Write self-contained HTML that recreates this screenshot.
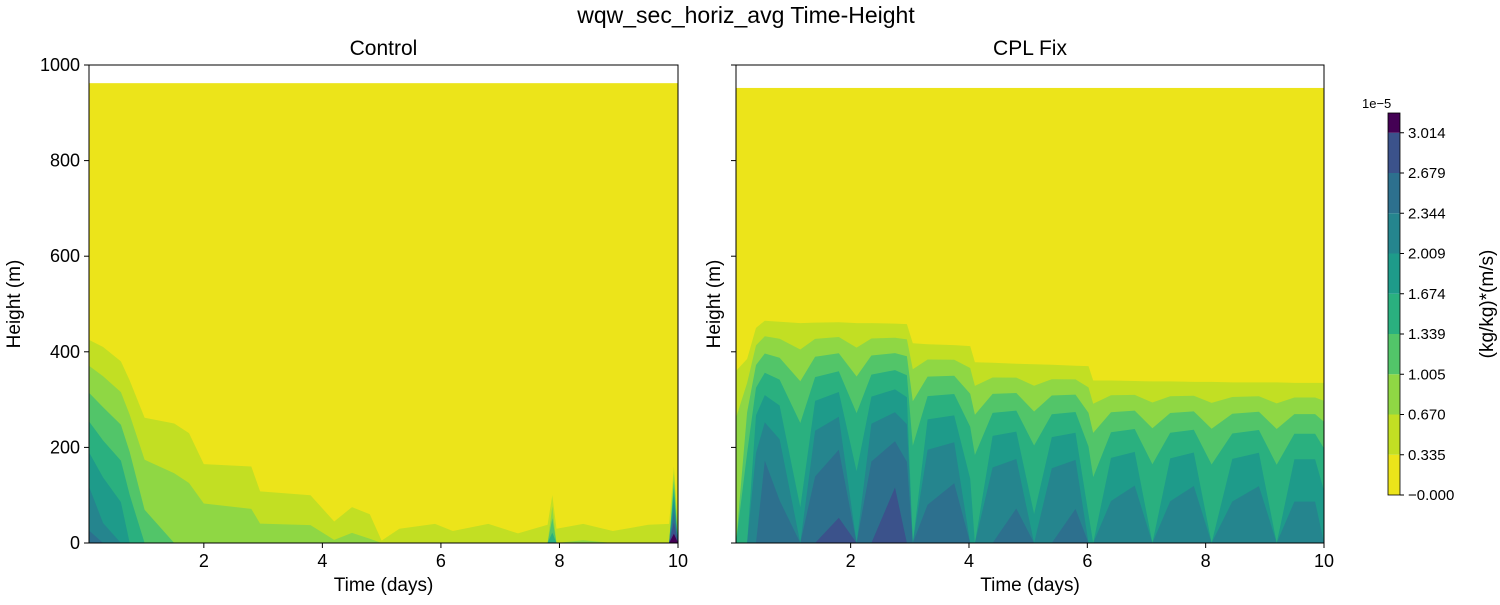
<!DOCTYPE html>
<html><head><meta charset="utf-8"><style>
body{margin:0;background:#fff}
svg text{font-family:"Liberation Sans","DejaVu Sans",sans-serif;fill:#000}
</style></head><body>
<svg id="chart" width="1500" height="600" viewBox="0 0 1500 600" xmlns="http://www.w3.org/2000/svg">
<text x="746" y="23" font-size="23" text-anchor="middle">wqw_sec_horiz_avg Time-Height</text>
<g id="pl"></g><g id="pr"></g><g id="cb"></g>
</svg>
<script>
// Control panel data: time (days), top of signal (m), surface value (1e-5)
const ctrlTimes=[0.06,0.3,0.6,0.75,1.0,1.5,1.75,2.0,2.8,2.95,3.8,4.2,4.5,4.8,5.0,5.3,5.9,6.2,6.8,7.3,7.8,7.88,7.95,8.4,8.9,9.5,9.85,9.93,10];
const ctrlTop=[425,410,380,340,262,250,230,165,160,108,100,45,75,60,5,30,40,25,40,20,38,100,30,40,25,38,40,160,40];
const ctrlBase=[2.4,2.1,1.9,1.6,1.15,1.0,0.95,0.9,0.85,0.8,0.8,0.7,0.75,0.7,0.45,0.65,0.65,0.6,0.65,0.6,0.65,1.5,0.65,0.7,0.65,0.65,0.65,3.2,1.0];
const ctrlDataTop=962;
// CPL Fix panel data
const fixTimes=[0.06,0.25,0.4,0.55,0.8,1.15,1.4,1.8,2.1,2.35,2.75,2.95,3.05,3.3,3.75,4.02,4.1,4.4,4.8,5.1,5.4,5.8,6.02,6.1,6.4,6.8,7.1,7.4,7.8,8.1,8.45,8.9,9.2,9.5,9.85,10];
const fixTop=[360,385,450,465,463,460,461,462,460,460,459,458,418,416,414,412,378,377,375,374,373,371,370,340,340,339,338,338,337,337,336,336,336,335,335,335];
const fixBase=[1.0,1.6,2.3,2.6,2.4,1.7,2.5,2.7,1.8,2.6,2.8,2.6,1.6,2.4,2.5,1.8,1.6,2.3,2.4,1.7,2.3,2.4,1.7,1.5,2.1,2.2,1.6,2.1,2.2,1.6,2.1,2.2,1.6,2.1,2.1,1.8];
const fixDataTop=952;
const yTicks=[0,200,400,600,800,1000];
const xTicks=[2,4,6,8,10];
const cbTicks=["-0.000","0.335","0.670","1.005","1.339","1.674","2.009","2.344","2.679","3.014"];
const step=0.335;
const colors=["#ece41a","#c2df23","#8fd744","#52c569","#2ab07f","#1e9b8a","#25858e","#2d708e","#3b528b","#440154"];
const NS="http://www.w3.org/2000/svg";
function mk(parent,tag,attrs){const e=document.createElementNS(NS,tag);for(const k in attrs)e.setAttribute(k,attrs[k]);parent.appendChild(e);return e;}
const Y0=543,Y1=65;
function yS(h){return Y0-h*(Y0-Y1)/1000;}
function panel(gid,x0,x1,times,tops,bases,dataTop,p,title,labels){
  const g=document.getElementById(gid);
  
  
  const xS=d=>x0+(d-0.0625)*(x1-x0)/9.9375;
  const bg=mk(g,'rect',{x:x0,y:yS(dataTop),width:x1-x0,height:Y0-yS(dataTop),fill:colors[0]});
  
  
  for(let k=1;k<colors.length;k++){
    const thr=k*step;let pts=[];let any=false;
    for(let i=0;i<times.length;i++){
      let h=0;const b=bases[i];
      if(b>thr||(k===1&&b>step)){h=k===1?tops[i]:tops[i]*Math.pow(Math.max(0,1-(thr-step)/(b-step)),1/p);}
      if(h>0)any=true;
      pts.push(xS(Math.max(0.0625,times[i])).toFixed(1)+','+yS(h).toFixed(1));
    }
    if(!any)continue;
    pts.push(xS(10)+','+Y0);pts.push(xS(0.0625)+','+Y0);
    const pg=mk(g,'polygon',{points:pts.join(' '),fill:colors[k]});
    
    
  }
  const fr=mk(g,'rect',{x:x0,y:Y1,width:x1-x0,height:Y0-Y1,fill:'none',stroke:'#000','stroke-width':1});
  
  
  const t=mk(g,'text',{x:(x0+x1)/2,y:55,'font-size':21,'text-anchor':'middle'});t.textContent=title;
  
  
  yTicks.forEach(v=>{
    mk(g,'line',{x1:x0-5,x2:x0,y1:yS(v),y2:yS(v),stroke:'#000'});
    if(labels){const l=mk(g,'text',{x:x0-9,y:yS(v)+6,'font-size':18,'text-anchor':'end'});l.textContent=v;
      
      }
  });
  xTicks.forEach(v=>{
    mk(g,'line',{x1:xS(v),x2:xS(v),y1:Y0,y2:Y0+5,stroke:'#000'});
    const l=mk(g,'text',{x:xS(v),y:Y0+24,'font-size':18,'text-anchor':'middle'});l.textContent=v;
    
    
  });
  const xl=mk(g,'text',{x:(x0+x1)/2,y:591,'font-size':19,'text-anchor':'middle'});xl.textContent='Time (days)';
  
  
  const yl=mk(g,'text',{x:0,y:0,'font-size':19,'text-anchor':'middle',transform:`translate(${x0-(labels?69:16)},${(Y0+Y1)/2}) rotate(-90)`});yl.textContent='Height (m)';
  
  
}
panel('pl',89,678,ctrlTimes,ctrlTop,ctrlBase,ctrlDataTop,1.3,'Control',true);
panel('pr',736,1324,fixTimes,fixTop,fixBase,fixDataTop,2.2,'CPL Fix',false);
// colorbar
const cb=document.getElementById('cb');


const cbx=1388,cbw=12,cbB=495,cbT=113,bandPx=40.25;
for(let k=0;k<colors.length;k++){
  const yb=cbB-k*bandPx,yt=Math.max(cbT,yb-bandPx);
  const r=mk(cb,'rect',{x:cbx,y:yt,width:cbw,height:yb-yt,fill:colors[k]});
  
  
}
mk(cb,'rect',{x:cbx,y:cbT,width:cbw,height:cbB-cbT,fill:'none',stroke:'#000','stroke-width':0.8});
cbTicks.forEach((s,i)=>{
  const y=cbB-i*bandPx;
  mk(cb,'line',{x1:cbx+cbw,x2:cbx+cbw+4,y1:y,y2:y,stroke:'#000'});
  const l=mk(cb,'text',{x:cbx+cbw+8,y:y+5,'font-size':15});l.textContent=s.replace('-','\u2212');
  
  
});
const ex=mk(cb,'text',{x:1362,y:108,'font-size':13});ex.textContent='1e\u22125';


const cl=mk(cb,'text',{x:0,y:0,'font-size':19,'text-anchor':'middle',transform:'translate(1493,304) rotate(-90)'});cl.textContent='(kg/kg)*(m/s)';


</script>
</body></html>
